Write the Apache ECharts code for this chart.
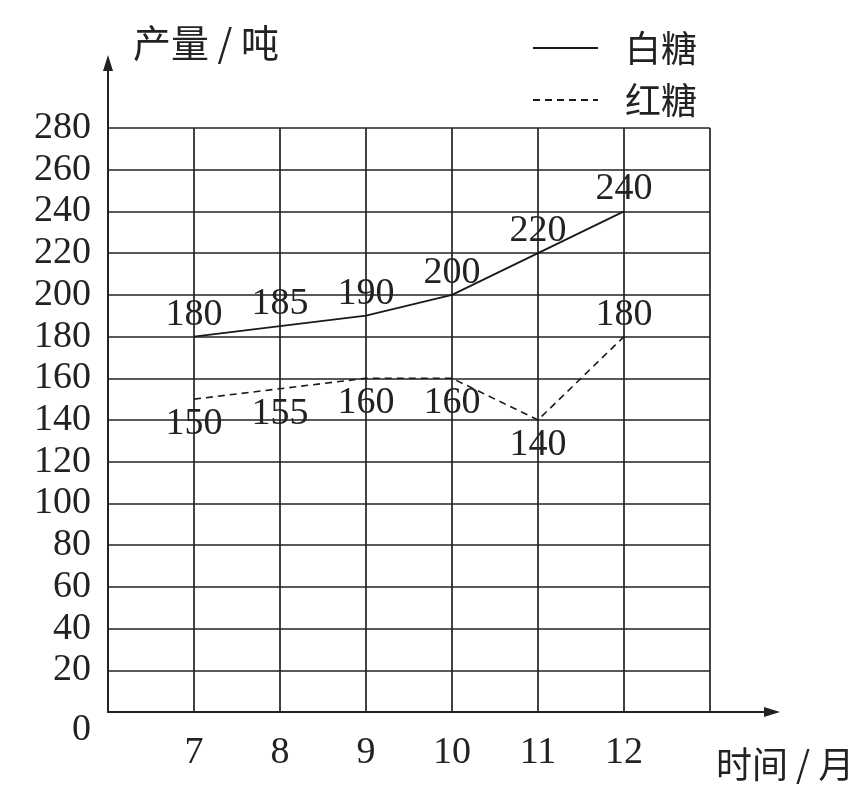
<!DOCTYPE html>
<html><head><meta charset="utf-8">
<script src="https://cdn.jsdelivr.net/npm/echarts@6/dist/echarts.min.js"></script>
<style>html,body{margin:0;padding:0;background:#fff}#c{width:866px;height:797px}</style>
</head><body><div id="c"></div>
<script>
const months = [7, 8, 9, 10, 11, 12];
const whiteSugar = [180, 185, 190, 200, 220, 240];
const brownSugar = [150, 155, 160, 160, 140, 180];
const yTicks = [0, 20, 40, 60, 80, 100, 120, 140, 160, 180, 200, 220, 240, 260, 280];

const ink = '#222';
const numFont = '"Liberation Serif", "DejaVu Serif", serif';
const cjkFont = '"Noto Sans CJK SC", "Liberation Serif", serif';

const chart = echarts.init(document.getElementById('c'));
const option = {
  backgroundColor: '#fff',
  animation: false,
  grid: { left: 108, right: 156, top: 128, bottom: 85, containLabel: false },
  legend: {
    orient: 'vertical', left: 527, top: 25,
    itemWidth: 65, itemHeight: 14, itemGap: 16,
    itemStyle: { opacity: 0 },
    textStyle: { fontFamily: cjkFont, fontSize: 36, color: ink, padding: [0, 0, 0, 22] },
    data: ['白糖', '红糖']
  },
  xAxis: {
    type: 'value', min: 6, max: 13, interval: 1,
    name: '时间 / 月', nameLocation: 'end', nameGap: 6,
    nameTextStyle: { fontFamily: cjkFont, fontSize: 36, color: ink, align: 'left', verticalAlign: 'top', padding: [34, 0, 0, 0] },
    axisLine: { show: true, lineStyle: { color: ink, width: 2 } },
    axisTick: { show: false },
    axisLabel: {
      margin: 22, fontFamily: numFont, fontSize: 38, color: ink,
      formatter: v => (months.indexOf(v) >= 0 ? String(v) : '')
    },
    splitLine: { show: true, lineStyle: { color: ink, width: 1.7 } }
  },
  yAxis: {
    type: 'value', min: yTicks[0], max: yTicks[yTicks.length - 1], interval: 20,
    name: '产量 / 吨', nameLocation: 'end', nameGap: 66,
    nameTextStyle: { fontFamily: cjkFont, fontSize: 38, color: ink, align: 'left', padding: [0, 0, 0, 25] },
    axisLine: { show: true, lineStyle: { color: ink, width: 2 } },
    axisTick: { show: false },
    axisLabel: {
      margin: 17, fontFamily: numFont, fontSize: 38, color: ink,
      formatter: v => (v === 0 ? '{z|0}' : String(v)),
      rich: { z: { fontFamily: numFont, fontSize: 38, color: ink, padding: [36, 0, 0, 0] } }
    },
    splitLine: { show: true, lineStyle: { color: ink, width: 1.7 } }
  },
  series: [
    {
      name: '白糖', type: 'line', symbol: 'circle', symbolSize: 0.1, showSymbol: true,
      data: months.map((m, i) => [m, whiteSugar[i]]),
      lineStyle: { color: '#1a1a1a', width: 1.8, type: 'solid' },
      itemStyle: { color: '#1a1a1a' },
      label: { show: true, position: 'top', distance: 3, fontFamily: numFont, fontSize: 38, color: ink,
        formatter: p => String(p.value[1]) }
    },
    {
      name: '红糖', type: 'line', symbol: 'circle', symbolSize: 0.1, showSymbol: true,
      data: months.map((m, i) => [m, brownSugar[i]]),
      lineStyle: { color: '#1a1a1a', width: 1.6, type: [7, 5] },
      itemStyle: { color: '#1a1a1a' },
      label: { show: true, position: 'bottom', distance: 6, fontFamily: numFont, fontSize: 38, color: ink,
        formatter: p => String(p.value[1]) }
    }
  ]
};
// last brown sugar label sits above its point
option.series[1].data[brownSugar.length - 1] = {
  value: [months[months.length - 1], brownSugar[brownSugar.length - 1]],
  label: { position: 'top', distance: 3 }
};
chart.setOption(option);

// axis arrows extending beyond the grid
const o = chart.convertToPixel({ gridIndex: 0 }, [6, 0]);
const yTop = chart.convertToPixel({ gridIndex: 0 }, [6, yTicks[yTicks.length - 1]]);
const xEnd = chart.convertToPixel({ gridIndex: 0 }, [13, 0]);
const yArrowTip = yTop[1] - 73;
const xArrowTip = xEnd[0] + 70;
chart.setOption({
  graphic: [
    { type: 'line', shape: { x1: o[0], y1: yTop[1], x2: o[0], y2: yArrowTip + 6 }, style: { stroke: ink, lineWidth: 2 } },
    { type: 'polygon', shape: { points: [[o[0], yArrowTip], [o[0] - 5, yArrowTip + 16], [o[0] + 5, yArrowTip + 16]] }, style: { fill: ink } },
    { type: 'line', shape: { x1: xEnd[0], y1: o[1], x2: xArrowTip - 6, y2: o[1] }, style: { stroke: ink, lineWidth: 2 } },
    { type: 'polygon', shape: { points: [[xArrowTip, o[1]], [xArrowTip - 16, o[1] - 5], [xArrowTip - 16, o[1] + 5]] }, style: { fill: ink } }
  ]
});
</script></body></html>
